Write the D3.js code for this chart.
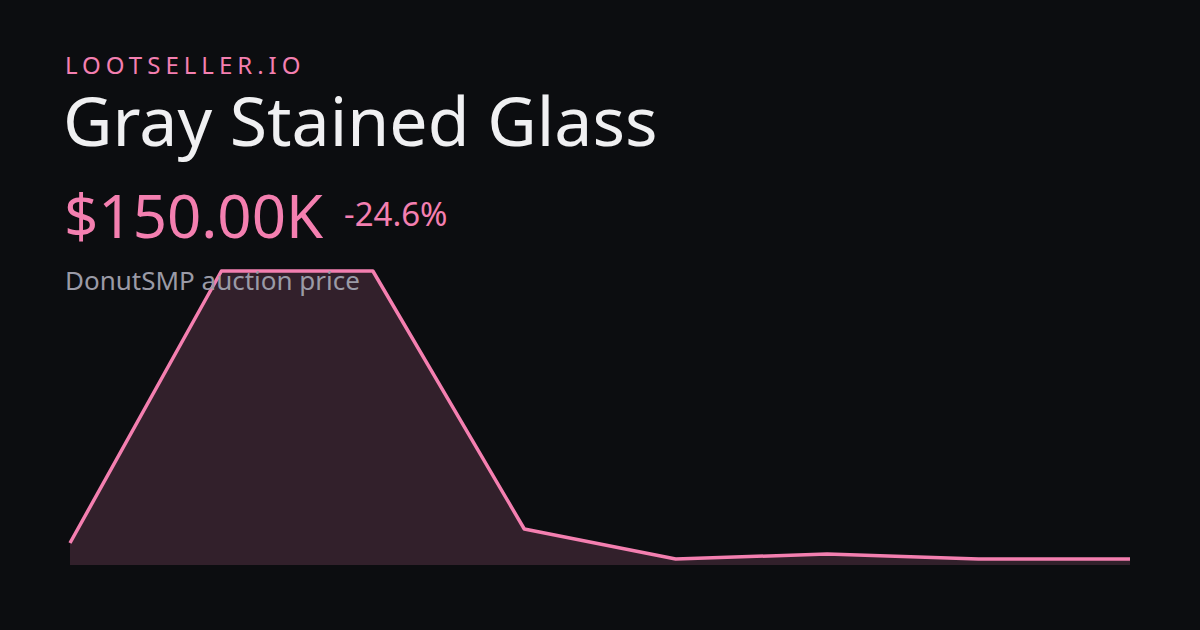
<!DOCTYPE html>
<html><head><meta charset="utf-8">
<script src="https://cdn.jsdelivr.net/npm/d3@7"></script>
<style>body{margin:0;background:#0c0d10}svg{display:block}</style>
</head><body>
<svg id="chart" width="1200" height="630"></svg>
<script>
// price history, in thousands
const days = [0, 1, 2, 3, 4, 5, 6, 7];
const prices = [550, 7350, 7350, 900, 150, 275, 150, 150];

const svg = d3.select("#chart");
svg.append("rect").attr("width", 1200).attr("height", 630).attr("fill", "#0c0d10");

let x = d3.scaleLinear().domain([0, 7]).range([70, 1130]);
let y = d3.scaleLinear().domain([0, 7350]).range([565, 271]);

let data = days.map((d, i) => ({ d: d, v: prices[i] }));

svg.append("path")
    .datum(data)
    .attr("fill", "#32202b")
    .attr("d", d3.area().x(p => x(p.d)).y0(565).y1(p => y(p.v)));

svg.append("path")
    .datum(data)
    .attr("fill", "none")
    .attr("stroke", "#f47fb0")
    .attr("stroke-width", 3.5)
    .attr("stroke-linejoin", "round")
    .attr("d", d3.line().x(p => x(p.d)).y(p => y(p.v)));

const font = "'Noto Sans', sans-serif";
svg.append("text").attr("x", 65).attr("y", 74).attr("fill", "#f47fb0")
    .style("font", "24px " + font).style("letter-spacing", "5px").text("LOOTSELLER.IO");
svg.append("text").attr("x", 63).attr("y", 146).attr("fill", "#f0f0f2")
    .style("font", "68px " + font).text("Gray Stained Glass");
svg.append("text").attr("x", 64).attr("y", 238).attr("fill", "#f47fb0")
    .style("font", "60px " + font).text("$150.00K");
svg.append("text").attr("x", 344).attr("y", 226).attr("fill", "#f47fb0")
    .style("font", "33px " + font).text("-24.6%");
svg.append("text").attr("x", 65).attr("y", 290).attr("fill", "#9a9aa6")
    .style("font", "26px " + font).text("DonutSMP auction price");
</script>
</body></html>
